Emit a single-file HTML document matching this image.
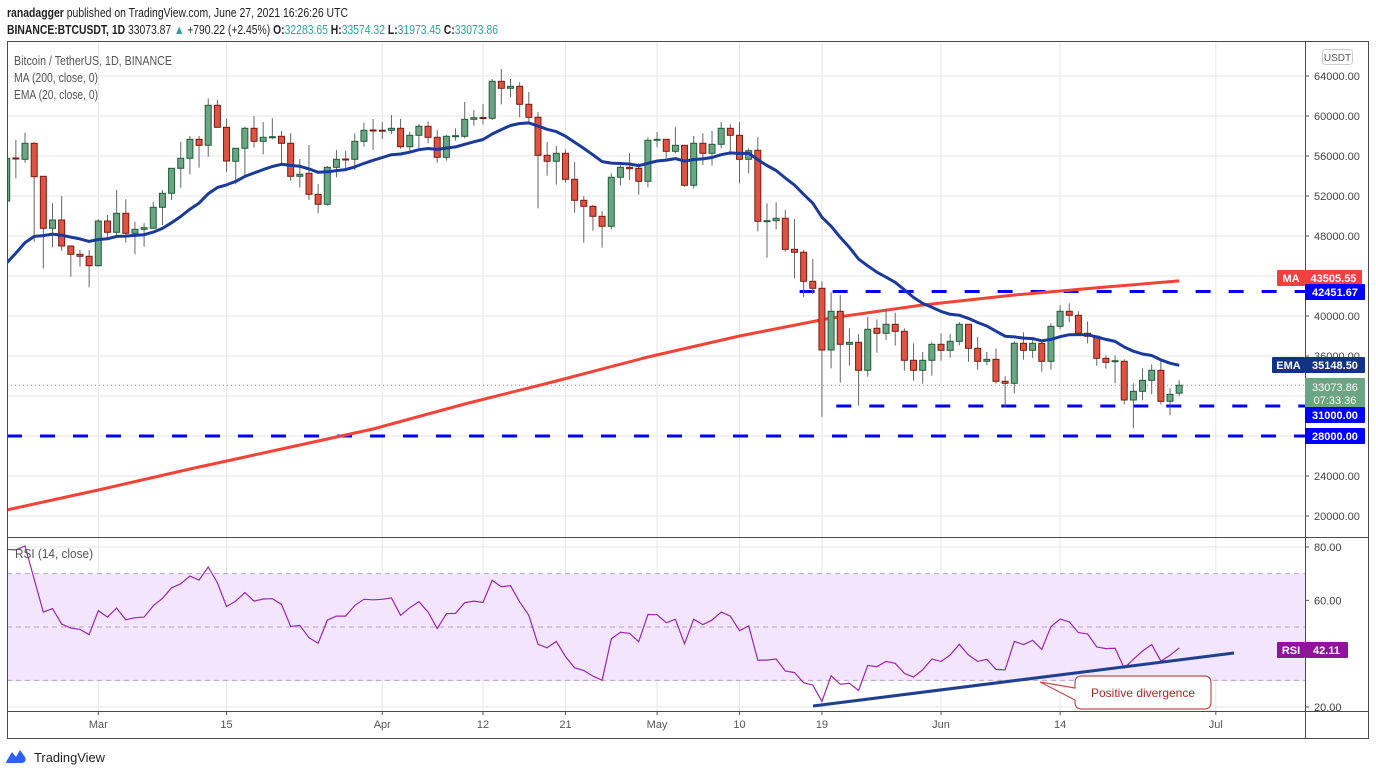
<!DOCTYPE html>
<html><head><meta charset="utf-8"><style>
html,body{margin:0;padding:0;background:#fff;width:1376px;height:776px;overflow:hidden}
svg{display:block;font-family:"Liberation Sans",sans-serif}
</style></head><body>
<svg id="chart" width="1376" height="776" viewBox="0 0 1376 776" xmlns="http://www.w3.org/2000/svg">
<defs>
<clipPath id="mainclip"><rect x="7.5" y="42" width="1297.5" height="495"/></clipPath>
<clipPath id="rsiclip"><rect x="7.5" y="538" width="1297.5" height="173"/></clipPath>
</defs>
<text x="7" y="17" font-size="13" fill="#222" textLength="341" lengthAdjust="spacingAndGlyphs"><tspan font-weight="bold">ranadagger</tspan> published on TradingView.com, June 27, 2021 16:26:26 UTC</text>
<text x="7" y="34" font-size="13" fill="#222" textLength="491" lengthAdjust="spacingAndGlyphs"><tspan font-weight="bold">BINANCE:BTCUSDT, 1D</tspan> 33073.87 <tspan fill="#26a69a">▲</tspan> +790.22 (+2.45%) <tspan font-weight="bold">O:</tspan><tspan fill="#26a69a">32283.65</tspan> <tspan font-weight="bold">H:</tspan><tspan fill="#26a69a">33574.32</tspan> <tspan font-weight="bold">L:</tspan><tspan fill="#26a69a">31973.45</tspan> <tspan font-weight="bold">C:</tspan><tspan fill="#26a69a">33073.86</tspan></text>
<g id="grid"></g>
<rect x="7" y="574" width="1298" height="107" fill="#f3e5fd"/>
<g id="rsiguides"></g>
<g clip-path="url(#mainclip)">
<g id="levels"></g>
<g id="ma"></g>
<g id="candles"></g>
<g id="ema"></g>
</g>
<g clip-path="url(#rsiclip)">
<g id="rsi"></g>
</g>
<line x1="813" y1="706" x2="1234" y2="653" stroke="#1f3f8f" stroke-width="3"/>
<g>
<path d="M1082,676 H1204 Q1211,676 1211,683 V702 Q1211,709 1204,709 H1082 Q1075,709 1075,702 V700 L1040,682 L1075,688 V683 Q1075,676 1082,676 Z" fill="#fff" stroke="#c0504d" stroke-width="1.2"/>
<text x="1143" y="697" font-size="12" fill="#b22222" text-anchor="middle">Positive divergence</text>
</g>
<g fill="none" stroke="#4a4a4a" stroke-width="1">
<rect x="7.5" y="41.5" width="1361" height="697"/>
<line x1="7" y1="537.5" x2="1369" y2="537.5"/>
<line x1="7" y1="711.5" x2="1369" y2="711.5"/>
<line x1="1305.5" y1="41" x2="1305.5" y2="739"/>
</g>
<g id="axis" font-size="11" fill="#444"></g>
<g id="taxis" font-size="11" fill="#555"></g>
<text x="14" y="65" font-size="12.5" fill="#555" textLength="158" lengthAdjust="spacingAndGlyphs">Bitcoin / TetherUS, 1D, BINANCE</text>
<text x="14" y="82" font-size="12.5" fill="#555" textLength="84" lengthAdjust="spacingAndGlyphs">MA (200, close, 0)</text>
<text x="14" y="99" font-size="12.5" fill="#555" textLength="84" lengthAdjust="spacingAndGlyphs">EMA (20, close, 0)</text>
<text x="15" y="558" font-size="12.5" fill="#555" textLength="78" lengthAdjust="spacingAndGlyphs">RSI (14, close)</text>
<rect x="1322.5" y="49.5" width="30" height="15" rx="3" fill="#fff" stroke="#ccc"/>
<text x="1337.5" y="61" font-size="10" fill="#555" text-anchor="middle">USDT</text>
<g>
<path d="M6,762 L12,752 L16,757 L20,750 L25,757 Q27,762 22,763 L9,763 Q5,763 6,762 Z" fill="#2962ff"/>
<text x="34" y="762" font-size="13" fill="#222" textLength="71" lengthAdjust="spacingAndGlyphs">TradingView</text>
</g>
</svg>
<script>
const opens  = [51500,55800,55670,57270,53970,48770,49600,47000,46170,45970,45030,49500,48370,50270,48270,48670,48770,50870,52270,54770,55770,57670,57070,61070,58870,55470,56770,58770,57470,57870,57970,57270,53970,54270,52170,51170,54870,55700,55670,57470,58600,58580,58570,58770,56930,58070,58970,57870,55870,57970,57970,59670,59850,59770,63470,62770,62970,61170,59870,56070,55470,56270,53670,51570,50970,49970,48970,53870,54870,54770,53470,57570,57670,56470,57070,53070,57270,56270,57170,58770,58070,55670,56570,49470,49530,49770,46670,46370,43470,42770,36600,40470,37170,37370,34570,38770,38270,39170,38470,35570,34570,35570,37170,36570,37470,39170,36770,35470,35670,33470,33270,37270,36570,37270,35470,38970,40470,40070,38270,37970,35770,35470,35470,31600,32470,33570,34570,31470,32283.65];
const closes = [55770,55700,57270,53930,48770,49600,47000,46170,45970,45030,49500,48370,50270,48270,48670,48830,50870,52270,54770,55770,57670,57070,61070,58870,55500,56770,58770,57470,57870,57930,57270,53970,54170,52170,51170,54870,55670,55600,57470,58570,58550,58520,58770,56930,58070,58970,57870,55870,57970,58030,59670,59830,59770,63470,62770,62970,61170,59870,56070,55470,56270,53670,51570,50970,49970,48970,53870,54870,54730,53470,57570,57670,56470,57070,53070,57270,56270,57170,58770,58070,55670,56530,49470,49530,49770,46670,46370,43470,42770,36600,40470,37170,37370,34570,38670,38270,39170,38470,35570,34570,35570,37170,36570,37470,39170,36770,35470,35670,33470,33270,37270,36570,37270,35470,38970,40470,40070,38270,37970,35770,35370,35530,31600,32470,33570,34570,31470,32170,33073.86];
const highs  = [56270,57600,58330,57370,53970,51270,52000,47000,46600,46600,49670,50100,52600,51670,49430,49270,51430,52600,54770,57430,58000,58000,61770,61600,59770,56770,58930,60000,59400,59770,58500,58270,55700,57100,53200,55000,56600,56530,58270,59330,59700,59400,60100,59700,58430,59200,59430,58600,58100,58770,61400,60600,61200,63700,64700,63700,63370,62400,60400,57400,57000,56670,55400,52000,51100,50500,54270,55330,56270,55270,57870,58400,57670,58870,57070,58000,58270,58500,59400,59170,59400,56770,57870,51270,51370,50600,49700,46600,45700,43470,42370,42100,38770,38200,39930,39670,40770,40330,38770,37270,36400,37370,38270,38200,39370,39170,37900,36400,36770,33970,37470,38370,37670,37570,39270,41070,41270,40470,39470,38070,36070,36070,35670,33270,34770,35170,35470,32770,33574.32];
const lows   = [50600,53770,55330,47430,44770,46870,46530,43930,44930,42870,44930,47770,47930,47330,46170,46930,48770,49100,51600,52830,54170,54830,55930,58870,54430,53170,53930,56830,56170,57670,55270,53530,52830,51600,50270,51030,53870,54530,54600,56930,56600,57700,58200,56730,56270,56770,57270,55330,55530,57530,57770,59030,59170,59600,61170,61870,59870,59430,50770,54030,53130,53330,50330,47330,48530,46830,48670,53030,53600,52130,52870,56870,55770,56270,52930,52730,55100,55030,56770,56100,53270,54270,48470,45830,48670,46430,43770,41870,42200,29930,34770,33330,35030,31030,33930,36330,37600,37030,34530,33530,33230,34030,35530,35830,37070,35430,34630,35100,33230,30870,32270,35630,35830,34430,34630,38670,39370,38070,37270,35030,34730,33270,31170,28770,31570,32170,31170,30070,31973.45];
const rsiValues = [79.1,78.9,80.4,67.9,55.6,56.9,51.1,49.6,49.1,47.1,56.1,53.7,57.1,52.7,53.5,53.7,58.0,60.7,64.7,66.2,69.1,67.6,72.5,66.6,57.7,59.7,62.9,59.7,60.5,60.6,58.5,50.2,50.6,46.0,43.9,52.6,54.1,54.1,58.1,60.4,60.2,60.4,60.9,54.4,57.2,59.5,55.6,49.4,55.0,55.1,59.1,59.7,59.2,67.5,65.1,65.5,59.4,54.4,43.5,42.2,44.6,38.9,34.7,33.7,31.6,30.0,45.6,48.0,47.6,44.5,54.7,54.6,51.6,52.9,43.7,52.9,50.9,52.6,55.6,54.1,48.6,50.4,37.6,37.6,38.0,33.5,32.9,29.1,28.2,22.1,31.7,28.5,28.9,26.2,35.6,35.1,37.1,36.4,32.6,31.2,34.0,38.0,37.1,39.5,43.5,39.5,37.1,37.9,34.1,33.9,44.6,43.4,45.0,41.6,50.1,53.0,51.9,47.9,47.4,42.5,41.9,42.0,34.6,37.9,41.0,43.4,37.2,39.4,42.11];
const maIndex = [0,10,20,30,40,50,60,70,80,90,100,110,120,128];
const maValues = [20600,22600,24700,26700,28700,31200,33500,35900,38000,39800,41100,42100,42900,43505.55];
const emaSeed = 45300;
const priceTicks = [64000,60000,56000,52000,48000,44000,40000,36000,32000,28000,24000,20000];
const timeLabels = ["Mar","15","Apr","12","21","May","10","19","Jun","14","Jul"];
const timeIndex = [10,24,41,52,61,71,80,89,102,115,132];
const levelValues = [42451.67,31000,28000];
const levelStart = [87,91,0];
const rsiTicks = [80,60,40,20];

const NS="http://www.w3.org/2000/svg";
const X0=6.7, DX=9.16;
const xs=i=>X0+DX*i;
const py=p=>76+(64000-p)/100;
const ry=v=>547+(80-v)*160/60;
function mk(tag,attrs,parent){const e=document.createElementNS(NS,tag);for(const k in attrs)e.setAttribute(k,attrs[k]);parent.appendChild(e);return e;}
const G=id=>document.getElementById(id);

const grid=G('grid');
priceTicks.forEach(p=>{const l=mk('line',{x1:7,x2:1305,y1:py(p),y2:py(p),stroke:'#e6e6e6','stroke-width':1},grid);

});
rsiTicks.forEach(v=>{const l=mk('line',{x1:7,x2:1305,y1:ry(v),y2:ry(v),stroke:'#e6e6e6'},grid);

});
timeIndex.forEach(i=>{[[42,537],[537,711]].forEach(r=>{const l=mk('line',{x1:xs(i),x2:xs(i),y1:r[0],y2:r[1],stroke:'#e6e6e6'},grid);

});});
[70,50,30].forEach(v=>{const l=mk('line',{x1:7,x2:1305,y1:ry(v),y2:ry(v),stroke:'#b9a5c0','stroke-dasharray':'5,4'},G('rsiguides'));

});
const cp=mk('line',{x1:7,x2:1305,y1:py(closes[closes.length-1]),y2:py(closes[closes.length-1]),stroke:'#4caf7a','stroke-dasharray':'1,3'},G('levels'));


levelValues.forEach((v,k)=>{const l=mk('line',{x1:Math.max(7,xs(levelStart[k])-4),x2:1305,y1:py(v),y2:py(v),stroke:'#0000ff','stroke-width':3,'stroke-dasharray':'15,18'},G('levels'));

});
let d='';maIndex.forEach((i,k)=>{d+=(k?'L':'M')+xs(i).toFixed(1)+','+py(maValues[k]).toFixed(1);});
const mp=mk('path',{d:d,fill:'none',stroke:'#f44336','stroke-width':3,'stroke-linejoin':'round'},G('ma'));


const cg=G('candles');
opens.forEach((o,i)=>{const c=closes[i],up=c>=o,x=xs(i);
const w=mk('line',{x1:x,x2:x,y1:py(highs[i]),y2:py(lows[i]),stroke:'#666','stroke-width':1},cg);


const top=py(Math.max(o,c)),h=Math.max(1,Math.abs(py(o)-py(c)));
const b=mk('rect',{x:x-3,y:top,width:6,height:h,fill:up?'#6aa584':'#dd5443',stroke:up?'#1f5e3a':'#7a1a12','stroke-width':1},cg);

});
let e=emaSeed,a=2/21,de='';closes.forEach((c,i)=>{if(i>0)e=c*a+e*(1-a);de+=(i?'L':'M')+xs(i).toFixed(1)+','+py(e).toFixed(1);});
const ep=mk('path',{d:de,fill:'none',stroke:'#1a3a9c','stroke-width':3,'stroke-linejoin':'round'},G('ema'));


let dr='';rsiValues.forEach((v,i)=>{dr+=(i?'L':'M')+xs(i).toFixed(1)+','+ry(v).toFixed(1);});
const rp=mk('path',{d:dr,fill:'none',stroke:'#9c27b0','stroke-width':1.2},G('rsi'));


const ax=G('axis');
priceTicks.forEach(p=>{mk('line',{x1:1305,x2:1309,y1:py(p),y2:py(p),stroke:'#555'},ax);
const t=mk('text',{x:1314,y:py(p)+4},ax);t.textContent=p.toFixed(2);

});
[80,60,20].forEach(v=>{mk('line',{x1:1305,x2:1309,y1:ry(v),y2:ry(v),stroke:'#555'},ax);
const t=mk('text',{x:1314,y:ry(v)+4},ax);t.textContent=v.toFixed(2);

});
function tag(x,y,w,h,fill,txt,name){const r=mk('rect',{x:x,y:y,width:w,height:h,fill:fill,rx:1},ax);


const t=mk('text',{x:x+w/2,y:y+h/2+4,fill:'#fff','font-weight':'bold','text-anchor':'middle'},ax);t.textContent=txt;}
tag(1277,270,28,16,'#f23f3f','MA','ma-tag');
tag(1305,270,57,16,'#f23f3f',maValues[maValues.length-1].toFixed(2),'ma-value-tag');
tag(1305,284,60,16,'#0000ff',levelValues[0].toFixed(2),'level-42451-tag');
tag(1272,357,33,16,'#123189','EMA','ema-tag');
tag(1305,357,60,16,'#123189','35148.50','ema-value-tag');
const gr=mk('rect',{x:1305,y:378,width:60,height:30,fill:'#6aa584',rx:1},ax);


const g1=mk('text',{x:1335,y:391,fill:'#fff','text-anchor':'middle'},ax);g1.textContent=closes[closes.length-1].toFixed(2);
const g2=mk('text',{x:1335,y:404,fill:'#fff','text-anchor':'middle'},ax);g2.textContent='07:33:36';
tag(1305,407,60,16,'#0000ff',levelValues[1].toFixed(2),'level-31000-tag');
tag(1305,428,60,16,'#0000ff',levelValues[2].toFixed(2),'level-28000-tag');
tag(1277,642,28,16,'#8e1599','RSI','rsi-tag');
tag(1305,642,43,16,'#8e1599',rsiValues[rsiValues.length-1].toFixed(2),'rsi-value-tag');
const ta=G('taxis');
timeIndex.forEach((i,k)=>{mk('line',{x1:xs(i),x2:xs(i),y1:711,y2:715,stroke:'#555'},ta);
const t=mk('text',{x:xs(i),y:728,'text-anchor':'middle'},ta);t.textContent=timeLabels[k];

});
</script>
</body></html>
